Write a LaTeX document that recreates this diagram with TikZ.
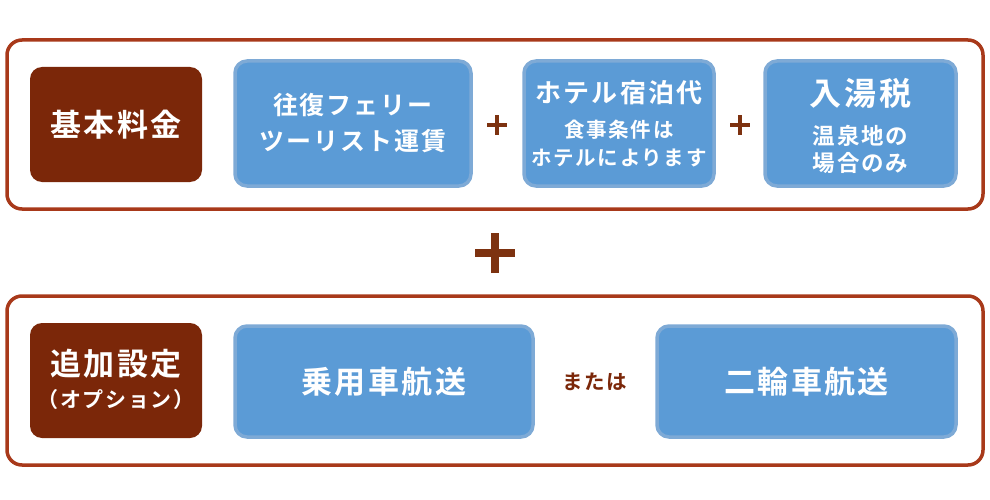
\documentclass[tikz,border=0pt]{standalone}
\usepackage{fontspec}
\setmainfont{Noto Sans CJK JP}[BoldFont=* Bold]
\newfontfamily\jp{Noto Sans CJK JP}[UprightFont=* Bold, LetterSpace=8]
\definecolor{frame}{HTML}{A8391A}
\definecolor{brownbox}{HTML}{7B2709}
\definecolor{bluefill}{HTML}{5B9BD6}
\definecolor{blueedge}{HTML}{7EAAD6}
\definecolor{plusc}{HTML}{7D3210}
\begin{document}
\begin{tikzpicture}[x=1pt,y=-1pt,
  outerbox/.style={draw=frame, line width=3.5pt, rounded corners=15pt, fill=white, inner sep=0pt},
  headbox/.style={fill=brownbox, rounded corners=12pt, text=white, align=center, inner sep=0pt, font=\jp},
  bluebox/.style={fill=bluefill, draw=blueedge, line width=3.5pt, rounded corners=12pt, text=white, align=center, inner sep=0pt, font=\jp},
  plusline/.style={draw=plusc, line width=4pt},
  bigplus/.style={draw=plusc, line width=8.5pt},
  pt/.style={inner sep=0pt, minimum size=0pt}
]
\useasboundingbox (0,0) rectangle (990,500);
% frames
\node[outerbox, minimum width=976pt, minimum height=169pt] (g1) at (495,124.5) {};
\node[outerbox, minimum width=976pt, minimum height=169pt] (g2) at (495,380.5) {};
% row 1
\node[headbox, minimum width=172pt, minimum height=115pt] (h1) at (116,124.5) {\fontsize{31}{36}\selectfont 基本料金};
\node[bluebox, minimum width=236pt, minimum height=125pt] (b1) at (353,123.5) {};
\node[text=white, font=\jp\fontsize{25}{36}\selectfont, align=center] (b1t) at (b1.center) {往復フェリー\\ツーリスト運賃};
\node[bluebox, minimum width=190pt, minimum height=125pt] (b2) at (619,123.5) {};
\node[text=white, font=\jp\fontsize{26}{28}\selectfont] (b2a) at (619,93) {ホテル宿泊代};
\node[text=white, font=\jp\fontsize{20.5}{28}\selectfont, align=center] (b2b) at (619,144) {食事条件は\\ホテルによります};
\node[bluebox, minimum width=191pt, minimum height=125pt] (b3) at (860.5,123.5) {};
\node[text=white, font=\jp\fontsize{32}{34}\selectfont] (b3a) at (860.5,93) {入湯税};
\node[text=white, font=\jp\fontsize{22.5}{27}\selectfont, align=center] (b3b) at (860.5,149) {温泉地の\\場合のみ};
% small pluses
\node[pt] (p1) at (497,125) {};
\node[pt] (p2) at (740,125) {};
\draw[plusline] ([xshift=-10pt]p1.center) -- ([xshift=10pt]p1.center);
\draw[plusline] ([yshift=-10pt]p1.center) -- ([yshift=10pt]p1.center);
\draw[plusline] ([xshift=-10pt]p2.center) -- ([xshift=10pt]p2.center);
\draw[plusline] ([yshift=-10pt]p2.center) -- ([yshift=10pt]p2.center);
% big plus
\node[pt] (bp) at (495,253) {};
\draw[bigplus] ([xshift=-20pt]bp.center) -- ([xshift=20pt]bp.center);
\draw[bigplus] ([yshift=-20pt]bp.center) -- ([yshift=20pt]bp.center);
% row 2
\node[headbox, minimum width=172pt, minimum height=115pt] (h2) at (116,380.5) {};
\node[text=white, font=\jp\fontsize{31}{34}\selectfont] (h2a) at (116,364) {追加設定};
\node[text=white, font=\jp\fontsize{21}{22}\selectfont] (h2b) at (116,400) {（オプション）};
\node[bluebox, minimum width=298pt, minimum height=111pt] (c1) at (384,381.5) {\fontsize{31}{34}\selectfont 乗用車航送};
\node[text=brownbox, font=\jp\fontsize{20.5}{22}\selectfont] (or) at (595,382) {または};
\node[bluebox, minimum width=299pt, minimum height=111pt] (c2) at (806.5,381.5) {\fontsize{31}{34}\selectfont 二輪車航送};
\end{tikzpicture}
\end{document}
